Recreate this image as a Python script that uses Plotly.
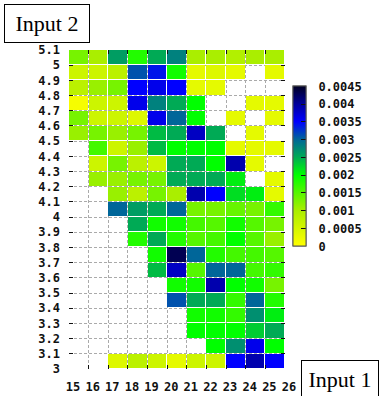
import plotly.graph_objects as go

# Cell lower bounds
input1 = [15, 16, 17, 18, 19, 20, 21, 22, 23, 24, 25]
input2 = [3.0, 3.1, 3.2, 3.3, 3.4, 3.5, 3.6, 3.7, 3.8, 3.9, 4.0,
          4.1, 4.2, 4.3, 4.4, 4.5, 4.6, 4.7, 4.8, 4.9, 5.0]
N = None
# rows from input2 = 3.0 (bottom) up to 5.0 (top); columns input1 = 15..25
r30 = [N, N, 0.0004, 0.0008, 0.0006, 0.0003, 0.0006, 0.0006, 0.0035, 0.0039, 0.0035]
r31 = [N, N, N, N, N, N, N, 0.0020, 0.0027, 0.0036, 0.0020]
r32 = [N, N, N, N, N, N, 0.0020, 0.0020, 0.0020, 0.0023, 0.0025]
r33 = [N, N, N, N, N, N, 0.0019, 0.0019, 0.0017, 0.0027, 0.0021]
r34 = [N, N, N, N, N, 0.0031, 0.0025, 0.0025, 0.0017, 0.0030, 0.0018]
r35 = [N, N, N, N, N, 0.0019, 0.0019, 0.0039, 0.0020, 0.0019, 0.0013]
r36 = [N, N, N, N, 0.0024, 0.0038, 0.0015, 0.0030, 0.0030, 0.0016, 0.0017]
r37 = [N, N, N, N, 0.0019, 0.0043, 0.0030, 0.0018, 0.0016, 0.0016, 0.0015]
r38 = [N, N, N, 0.0018, 0.0025, 0.0018, 0.0015, 0.0016, 0.0020, 0.0015, 0.0011]
r39 = [N, N, N, 0.0025, 0.0019, 0.0019, 0.0016, 0.0015, 0.0019, 0.0015, 0.0013]
r40 = [N, N, 0.0030, 0.0026, 0.0025, 0.0030, 0.0013, 0.0013, 0.0014, 0.0013, 0.0017]
r41 = [N, N, 0.0011, 0.0008, 0.0013, 0.0010, 0.0039, 0.0035, 0.0022, 0.0021, 0.0003]
r42 = [N, 0.0011, 0.0011, 0.0013, 0.0013, 0.0025, 0.0025, 0.0025, 0.0021, N, 0.0003]
r43 = [N, 0.0006, 0.0013, 0.0008, 0.0006, 0.0025, 0.0025, 0.0020, 0.0039, 0.0003, N]
r44 = [N, 0.0016, 0.0006, 0.0011, 0.0024, 0.0020, 0.0020, 0.0020, 0.0003, 0.0003, 0.0003]
r45 = [0.0011, 0.0013, 0.0011, 0.0013, 0.0024, 0.0025, 0.0038, 0.0025, N, 0.0003, N]
r46 = [0.0013, 0.0006, 0.0006, 0.0004, 0.0036, 0.0030, 0.0020, N, 0.0003, N, 0.0003]
r47 = [0.0001, 0.0006, 0.0006, 0.0036, 0.0028, 0.0025, 0.0020, N, N, 0.0003, 0.0003]
r48 = [0.0008, 0.0011, 0.0013, 0.0035, 0.0036, 0.0035, 0.0003, 0.0003, N, N, N]
r49 = [0.0006, 0.0006, 0.0008, 0.0031, 0.0034, 0.0019, 0.0003, 0.0004, 0.0003, N, 0.0003]
r50 = [0.0013, 0.0010, 0.0026, 0.0018, 0.0025, 0.0028, 0.0010, 0.0010, 0.0009, 0.0010, 0.0010]
z = [r30, r31, r32, r33, r34, r35, r36, r37, r38, r39, r40,
     r41, r42, r43, r44, r45, r46, r47, r48, r49, r50]

x_ticks = list(range(15, 27))
y_ticks = [round(3.0 + 0.1 * i, 1) for i in range(22)]
y_ticktext = ["3", "3.1", "3.2", "3.3", "3.4", "3.5", "3.6", "3.7", "3.8", "3.9", "4",
              "4.1", "4.2", "4.3", "4.4", "4.5", "4.6", "4.7", "4.8", "4.9", "5", "5.1"]
cb_vals = [0, 0.0005, 0.001, 0.0015, 0.002, 0.0025, 0.003, 0.0035, 0.004, 0.0045]
cb_text = ["0", "0.0005", "0.001", "0.0015", "0.002", "0.0025", "0.003", "0.0035", "0.004", "0.0045"]

x_edges = input1 + [input1[-1] + 1]
y_edges = input2 + [round(input2[-1] + 0.1, 1)]

colorscale = [
    [0.0, "#ffff00"],
    [0.222, "#aaee00"],
    [0.444, "#00ff00"],
    [0.556, "#00aa55"],
    [0.667, "#006699"],
    [0.778, "#0000ff"],
    [0.889, "#00009a"],
    [1.0, "#000022"],
]

tickfont = dict(family="DejaVu Sans Mono", size=12, color="#111111", weight="bold")

cb_common = dict(
    x=(293 - 69) / 216, xanchor="left", xpad=0,
    y=(369 - 166) / 319.5, yanchor="middle", ypad=0,
    len=160 / 319.5, lenmode="fraction",
    thickness=13,
    outlinecolor="#555555", outlinewidth=1,
    tickmode="array", tickvals=cb_vals, ticktext=cb_text,
    tickfont=dict(family="DejaVu Sans Mono", size=12, color="#111111", weight="bold"),
)

fig = go.Figure()
# colour bar carrying the labels (spacer ticks are invisible)
fig.add_trace(go.Heatmap(
    x=x_edges, y=y_edges, z=z,
    zmin=0, zmax=0.0045, colorscale=colorscale,
    xgap=1, ygap=1, hoverongaps=False,
    colorbar=dict(cb_common, ticks="outside", ticklen=10, tickcolor="rgba(0,0,0,0)"),
))
# same heatmap again, its colour bar only draws the inside tick dashes
fig.add_trace(go.Heatmap(
    x=x_edges, y=y_edges, z=z,
    zmin=0, zmax=0.0045, colorscale=colorscale,
    xgap=1, ygap=1, hoverongaps=False,
    colorbar=dict(cb_common, ticks="inside", ticklen=5, tickcolor="#111111",
                  showticklabels=False),
))

fig.update_xaxes(
    range=[15, 26], tickvals=x_ticks, ticktext=[str(v) for v in x_ticks],
    ticks="inside", ticklen=4, tickcolor="#111111", mirror="ticks",
    showline=False, zeroline=False, automargin=False,
    showgrid=True, gridcolor="#aaaaaa", griddash="3px,2px", gridwidth=1,
    tickfont=tickfont, ticklabelstandoff=9, ticklabelshift=4,
)
fig.update_yaxes(
    range=[3, 5.1], tickvals=y_ticks, ticktext=y_ticktext,
    ticks="inside", ticklen=4, tickcolor="#111111", mirror="ticks",
    showline=False, zeroline=False, automargin=False,
    showgrid=True, gridcolor="#aaaaaa", griddash="3px,2px", gridwidth=1,
    tickfont=tickfont, ticklabelstandoff=8,
)

ann_font = dict(family="Liberation Serif", size=22, color="#000000")
fig.add_annotation(text="Input 2", xref="paper", yref="paper",
                   x=(47 - 69) / 216, y=(369 - 22.5) / 319.5,
                   xanchor="center", yanchor="middle", showarrow=False,
                   font=ann_font, bordercolor="#000000", borderwidth=1,
                   borderpad=0, width=84, height=37, bgcolor="#ffffff")
fig.add_annotation(text="Input 1", xref="paper", yref="paper",
                   x=(340 - 69) / 216, y=(369 - 379.5) / 319.5,
                   xanchor="center", yanchor="middle", showarrow=False,
                   font=ann_font, bordercolor="#000000", borderwidth=1,
                   borderpad=0, width=76, height=37, bgcolor="#ffffff")

fig.update_layout(
    width=379, height=396,
    margin=dict(l=69, r=94, t=50, b=27, pad=0, autoexpand=False),
    paper_bgcolor="#ffffff", plot_bgcolor="#ffffff",
    showlegend=False,
)

fig.write_html("out.html", config={"displayModeBar": False},
               post_script="document.body.style.margin='0px';")
